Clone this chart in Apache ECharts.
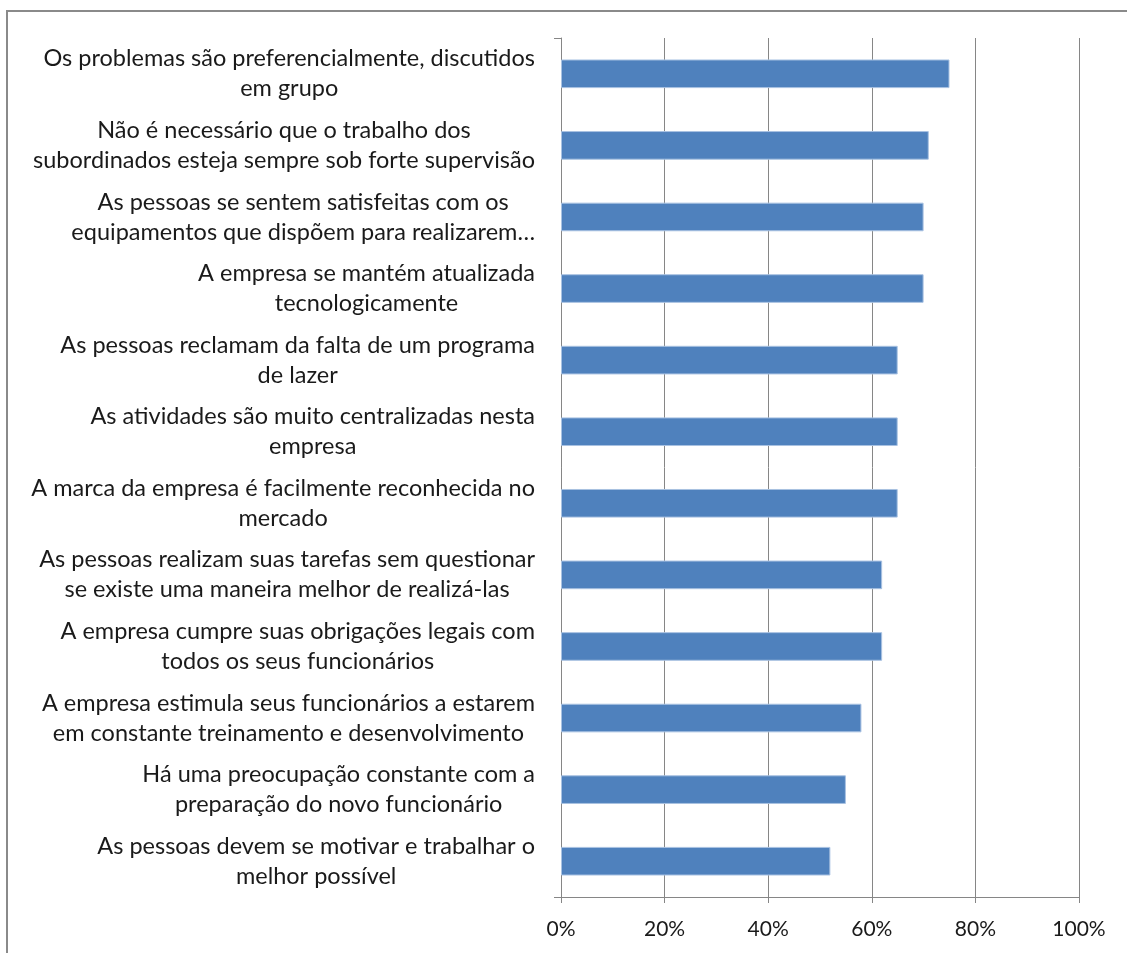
<!DOCTYPE html>
<html>
<head>
<meta charset="utf-8">
<title>chart</title>
<script src="https://cdn.jsdelivr.net/npm/echarts@6/dist/echarts.min.js"></script>
<style>
  html, body { margin: 0; padding: 0; background: #fff; }
  #chart { width: 1127px; height: 953px; }
</style>
</head>
<body>
<div id="chart"></div>
<script>
// categories top -> bottom, two lines each as in the picture
const categories = [
  'Os problemas são preferencialmente, discutidos\nem grupo',
  'Não é necessário que o trabalho dos\nsubordinados esteja sempre sob forte supervisão',
  'As pessoas se sentem satisfeitas com os\nequipamentos que dispõem para realizarem…',
  'A empresa se mantém atualizada\ntecnologicamente',
  'As pessoas reclamam da falta de um programa\nde lazer',
  'As atividades são muito centralizadas nesta\nempresa',
  'A marca da empresa é facilmente reconhecida no\nmercado',
  'As pessoas realizam suas tarefas sem questionar\nse existe uma maneira melhor de realizá-las',
  'A empresa cumpre suas obrigações legais com\ntodos os seus funcionários',
  'A empresa estimula seus funcionários a estarem\nem constante treinamento e desenvolvimento',
  'Há uma preocupação constante com a\npreparação do novo funcionário',
  'As pessoas devem se motivar e trabalhar o\nmelhor possível'
]
// percent values
const values = [75, 71, 70, 70, 65, 65, 65, 62, 62, 58, 55, 52]
const xTicks = [0, 20, 40, 60, 80, 100]

const FONT = 'Lato'
const chart = echarts.init(document.getElementById('chart'))

const option = {
  animation: false,
  textStyle: { fontFamily: FONT },
  graphic: [
    {
      type: 'rect',
      silent: true,
      shape: { x: 7, y: 11, width: 1200, height: 1100 },
      style: { fill: 'none', stroke: '#8a8a8a', lineWidth: 2 }
    }
  ],
  grid: {
    left: 561,
    right: 48,
    top: 38,
    bottom: 56
  },
  xAxis: {
    type: 'value',
    min: xTicks[0],
    max: xTicks[xTicks.length - 1],
    interval: 20,
    axisLine: { show: true, lineStyle: { color: '#868686', width: 1 } },
    axisTick: { show: true, length: 6, lineStyle: { color: '#868686' } },
    splitLine: { show: true, lineStyle: { color: '#868686', width: 1 } },
    axisLabel: {
      margin: 22,
      fontSize: 21,
      color: '#1a1a1a',
      fontFamily: FONT,
      formatter: (v) => v + '%'
    }
  },
  yAxis: {
    type: 'category',
    inverse: true,
    data: categories,
    axisLine: { show: true, lineStyle: { color: '#868686', width: 1 } },
    axisTick: {
      show: true,
      length: 7,
      interval: (i) => i === 2,
      lineStyle: { color: '#868686' }
    },
    axisLabel: {
      margin: 26,
      fontSize: 23.5,
      lineHeight: 30,
      color: '#1a1a1a',
      align: 'right',
      fontFamily: FONT,
      formatter: (v) => v.split('\n').map(s => '{c|' + s + '}').join('\n'),
      rich: {
        c: { align: 'center', fontSize: 23.5, lineHeight: 30, fontFamily: FONT, color: '#1a1a1a' }
      }
    }
  },
  series: [
    {
      type: 'bar',
      data: values,
      barCategoryGap: '60%',
      itemStyle: {
        color: '#4f81bd',
        borderColor: '#a9c2e2',
        borderWidth: 1
      }
    }
  ]
}

chart.setOption(option)
</script>
</body>
</html>
